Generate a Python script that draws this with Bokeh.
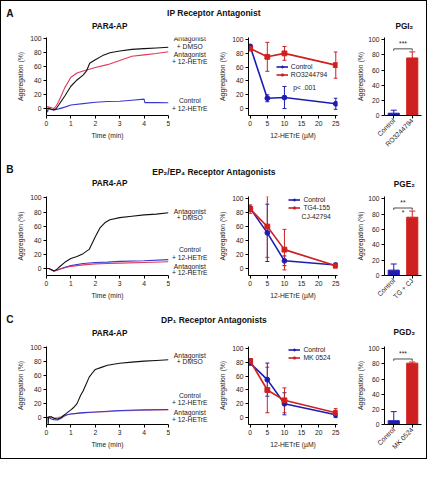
import math
from bokeh.plotting import figure
from bokeh.layouts import column, row
from bokeh.models import (Range1d, FactorRange, FixedTicker, Label, Legend, LegendItem,
                          ColumnDataSource, Whisker, TeeHead)
from bokeh.embed import file_html
from bokeh.resources import INLINE

# ---------------- data ----------------
panel_letters = ["A", "B", "C"]
panel_titles = ["IP Receptor Antagonist",
                "EP\u2082/EP\u2084 Receptor Antagonists",
                "DP\u2081 Receptor Antagonists"]
trace_title = "PAR4-AP"
bar_titles = ["PGI\u2082", "PGE\u2082", "PGD\u2082"]

time_ticks = [0, 1, 2, 3, 4, 5]
agg_ticks = [0, 20, 40, 60, 80, 100]
conc_ticks = [0, 5, 10, 15, 20, 25]
conc = [0, 5, 10, 25]

# Panel A traces (aggregation %, vs time in min)
a_t_dmso = [0, 0.1, 0.2, 0.3, 0.4, 0.5, 0.75, 1.0, 1.25, 1.5, 1.64, 1.77, 2.0, 2.3, 2.6, 3.0, 3.5, 4.0, 4.5, 5.0]
a_y_dmso = [0, 0.5, -1, -2, 0, 5, 18, 32, 41, 48, 54, 65, 70, 76, 80, 82.5, 85, 86, 87, 88]
a_t_het = [0, 0.1, 0.2, 0.3, 0.4, 0.5, 0.75, 1.0, 1.25, 1.5, 2.0, 2.5, 3.0, 3.5, 4.0, 4.5, 5.0]
a_y_het = [3, 2, 1, 0, 4, 10, 30, 45, 51, 54, 59, 63, 69, 75, 77, 79, 81.5]
a_t_ctrl = [0, 0.04, 0.08, 0.15, 0.3, 0.5, 0.75, 1.0, 1.5, 2.0, 2.5, 3.0, 3.5, 4.0, 4.03, 4.5, 5.0]
a_y_ctrl = [0, -5, 0, -1, -2, -0.5, 2, 5, 7, 9, 10, 10.5, 12, 13.5, 8.5, 8.5, 8.3]

# Panel B traces
b_t_dmso = [0, 0.1, 0.2, 0.3, 0.4, 0.5, 0.75, 1.0, 1.25, 1.5, 1.75, 2.0, 2.2, 2.4, 2.6, 3.0, 3.5, 4.0, 4.5, 5.0]
b_y_dmso = [0, 0, -2, -3.5, -2, 1.3, 8.7, 14, 17, 21, 27, 45, 58, 65, 69, 72, 74, 76, 77, 79]
b_t_ctrl = [0, 0.1, 0.2, 0.3, 0.4, 0.5, 0.75, 1.0, 1.5, 2.0, 2.5, 3.0, 4.0, 5.0]
b_y_ctrl = [0, 0, -2, -3.5, -3, -1.5, 1.5, 4, 7, 8.5, 9, 10, 11, 12.5]
b_t_het = [0, 0.1, 0.2, 0.3, 0.4, 0.5, 0.75, 1.0, 1.5, 2.0, 2.5, 3.0, 4.0, 5.0]
b_y_het = [0, 0, -2, -3.5, -3, -1.5, 1, 3, 5, 6.5, 7, 7.5, 8.5, 9.5]

# Panel C traces
c_t_dmso = [0, 0.06, 0.07, 0.08, 0.1, 0.2, 0.3, 0.45, 0.6, 0.7, 0.8, 1.0, 1.1, 1.25, 1.4, 1.5,
            1.6, 1.75, 1.9, 2.0, 2.25, 2.5, 3.0, 3.5, 4.0, 4.5, 5.0]
c_y_dmso = [0, 0, -10, 0, 1, 1, -1, -2, 0, 3, 5.6, 11, 14, 20, 32, 38,
            46, 58, 65, 69, 72, 75, 78, 79.5, 81, 82, 83]
c_t_ctrl = [0, 0.1, 0.2, 0.3, 0.45, 0.6, 0.7, 0.85, 1.0, 1.25, 1.5, 2.0, 2.5, 3.0, 4.0, 5.0]
c_y_ctrl = [0, 0, -2, -3, -3.5, -1, 1.5, 4, 5, 6, 7, 8, 9, 10, 11, 11.5]
c_t_het = [0, 0.1, 0.2, 0.3, 0.45, 0.6, 0.7, 0.85, 1.0, 1.25, 1.5, 2.0, 2.5, 3.0, 4.0, 5.0]
c_y_het = [0, 1, 0, -0.5, 0, 1, 2.5, 4, 5, 6, 6.5, 7.5, 8.5, 9.5, 10.5, 11]

# Trace side labels (text, y position in % units)
a_trace_labels = [("Antagonist", 100), ("+ DMSO", 89.5), ("Antagonist", 77.7),
                  ("+ 12-HETrE", 67), ("Control", 11), ("+ 12-HETrE", 0.4)]
b_trace_labels = [("Antagonist", 81), ("+ DMSO", 72), ("Control", 26.5),
                  ("+ 12-HETrE", 16), ("Antagonist", 3), ("+ 12-HETrE", -6)]
c_trace_labels = [("Antagonist", 89), ("+ DMSO", 80), ("Control", 32),
                  ("+ 12-HETrE", 21), ("Antagonist", 7), ("+ 12-HETrE", -3.5)]

# Dose-response (mean, error) vs 12-HETrE concentration
a_ctrl = [90, 15, 16, 7];  a_ctrl_err = [3, 5, 16, 8]
a_ant = [87, 75, 80, 63];  a_ant_err = [3, 21, 10, 19]
b_ctrl = [86, 51, 11, 5];  b_ctrl_err = [3, 41, 7, 2]
b_ant = [85, 60, 27, 4];   b_ant_err = [6, 44, 29, 2]
c_ctrl = [79, 55, 20, 4];  c_ctrl_err = [2, 24, 16, 4]
c_ant = [82, 40, 25, 7];   c_ant_err = [3, 33, 18, 6]
a_legend = ["Control", "RO3244794"]
b_legend = ["Control", "TG4-155", "CJ-42794"]
c_legend = ["Control", "MK 0524"]

# Bars
a_bar_labels = ["Control", "RO3244794"]; a_bar = [3, 76]; a_bar_err = [4, 8]
b_bar_labels = ["Control", "TG + CJ"];   b_bar = [7, 76]; b_bar_err = [8, 8]
c_bar_labels = ["Control", "MK 0524"];   c_bar = [5, 81]; c_bar_err = [12, 1.5]
a_sig = ["***"]
b_sig = ["**", "*"]
c_sig = ["***"]

# ---------------- layout helpers ----------------
S = 0.966
def R(v):
    return int(round(v * S))
def fpx(v):
    return f"{v * S:.2f}px"

FONT = "Liberation Sans"
BLUE = "#1d1db4"
RED = "#cf2020"
TR_BLACK = "#111111"
TR_RED = "#e0385c"
TR_BLUE = "#3838d0"
TR_PINK = "#e07a98"

X0, XS, X1, X2, X3 = 2, 177, 220, 368, 442
TR_FL, TR_FR = 48.7, 175
MD_FL, MD_FR = 258.2, 349.8
BR_FL, BR_FR = 397, 437

geo = [
    dict(h0=3, h1=35, r1=160, letter_y=15, title_y=15, sub_y=29, bar_title_y=29,
         tr=(38.5, 123.9), md=(40.8, 124.4), br=(37.5, 124.0),
         leg_x=287, leg_mid=78),
    dict(h0=160, h1=197, r1=318, letter_y=177, title_y=179, sub_y=191, bar_title_y=192,
         tr=(201.2, 287.0), md=(204.8, 287.3), br=(200.5, 288.0),
         leg_x=300, leg_mid=213.5),
    dict(h0=318, h1=352, r1=476, letter_y=332, title_y=333, sub_y=347, bar_title_y=346,
         tr=(356.2, 442.0), md=(359.8, 441.2), br=(353.4, 442.0),
         leg_x=300, leg_mid=367.5),
]


def base_style(p):
    p.title.visible = False
    p.grid.visible = False
    p.outline_line_color = None
    p.background_fill_color = "white"
    p.border_fill_color = "white"
    for ax in p.axis:
        ax.axis_line_color = "black"
        ax.axis_line_width = 1
        ax.major_tick_line_color = "black"
        ax.major_tick_out = 3
        ax.major_tick_in = 0
        ax.minor_tick_line_color = None
        ax.major_label_text_font = FONT
        ax.major_label_text_font_size = fpx(7)
        ax.major_label_text_color = "#222222"
        ax.major_label_standoff = 2
        ax.axis_label_text_font = FONT
        ax.axis_label_text_font_size = fpx(7)
        ax.axis_label_text_font_style = "normal"
        ax.axis_label_text_color = "#222222"
        ax.axis_label_standoff = 3


def header(g, letter, title, sub_title, bar_title):
    w = R(X3) - R(X0)
    h = R(g["h1"]) - R(g["h0"])
    p = figure(width=w, height=h, x_range=Range1d(0, w), y_range=Range1d(0, h),
               output_backend="svg", toolbar_location=None, min_border=0,
               x_axis_location=None, y_axis_location=None)
    base_style(p)

    def lab(text, xref, yref, size, align):
        p.add_layout(Label(x=(xref - X0) * S, y=h - (yref - g["h0"]) * S, text=text,
                           text_align=align, text_baseline="middle", text_font=FONT,
                           text_font_size=fpx(size), text_font_style="bold",
                           text_color="#111111"))
    lab(letter, 7, g["letter_y"], 10.5, "left")
    lab(title, 222, g["title_y"], 8.8, "center")
    lab(sub_title, 114, g["sub_y"], 8.5, "center")
    lab(bar_title, 419, g["bar_title_y"], 8.5, "center")
    return p


def trace_fig(g, series):
    y0, y1 = g["h1"], g["r1"]
    ft, fb = g["tr"]
    p = figure(width=R(XS) - R(X0), height=R(y1) - R(y0),
               x_range=Range1d(0, 5), y_range=Range1d(-10, 102),
               output_backend="svg", toolbar_location=None,
               min_border_left=R(TR_FL) - R(X0), min_border_right=R(XS) - R(TR_FR),
               min_border_top=R(ft) - R(y0), min_border_bottom=R(y1) - R(fb))
    base_style(p)
    p.xaxis.ticker = FixedTicker(ticks=time_ticks)
    p.yaxis.ticker = FixedTicker(ticks=agg_ticks)
    p.xaxis.axis_label = "Time (min)"
    p.yaxis.axis_label = "Aggregation (%)"
    for t, y, c in series:
        p.line(t, y, line_color=c, line_width=1.1)
    return p


def trace_labels_fig(g, side_labels):
    # narrow strip right of the trace plot that shares its vertical scale
    y0, y1 = g["h1"], g["r1"]
    ft, fb = g["tr"]
    w = R(X1) - R(XS)
    p = figure(width=w, height=R(y1) - R(y0),
               x_range=Range1d(0, w), y_range=Range1d(-10, 102),
               output_backend="svg", toolbar_location=None,
               min_border_left=0, min_border_right=0,
               min_border_top=R(ft) - R(y0), min_border_bottom=R(y1) - R(fb),
               x_axis_location=None, y_axis_location=None)
    base_style(p)
    for text, yv in side_labels:
        p.add_layout(Label(x=(197 - XS) * S, y=yv, text=text, text_align="center",
                           text_baseline="middle", text_font=FONT,
                           text_font_size=fpx(7), text_color="#222222"))
    return p


def mid_fig(g, ctrl, ctrl_err, ant, ant_err, legend_labels, extra=None):
    y0, y1 = g["h1"], g["r1"]
    ft, fb = g["md"]
    p = figure(width=R(X2) - R(X1), height=R(y1) - R(y0),
               x_range=Range1d(-0.5, 25.5), y_range=Range1d(-10, 103),
               output_backend="svg", toolbar_location=None,
               min_border_left=R(MD_FL) - R(X1), min_border_right=R(X2) - R(MD_FR),
               min_border_top=R(ft) - R(y0), min_border_bottom=R(y1) - R(fb))
    base_style(p)
    p.xaxis.ticker = FixedTicker(ticks=conc_ticks)
    p.yaxis.ticker = FixedTicker(ticks=agg_ticks)
    p.xaxis.axis_label = "12-HETrE (\u00b5M)"
    p.yaxis.axis_label = "Aggregation (%)"
    items = []
    for vals, errs, col, marker, lab in [(ctrl, ctrl_err, BLUE, "circle", legend_labels[0]),
                                         (ant, ant_err, RED, "square", legend_labels[1])]:
        src = ColumnDataSource(dict(x=conc, y=vals,
                                    up=[v + e for v, e in zip(vals, errs)],
                                    lo=[v - e for v, e in zip(vals, errs)]))
        p.add_layout(Whisker(source=src, base="x", upper="up", lower="lo",
                             line_color=col, line_width=1,
                             upper_head=TeeHead(size=4, line_color=col, line_width=1),
                             lower_head=TeeHead(size=4, line_color=col, line_width=1)))
        lr = p.line("x", "y", source=src, line_color=col, line_width=1.6)
        sr = p.scatter("x", "y", source=src, marker=marker, size=5 * S,
                       fill_color=col, line_color=col)
        items.append(LegendItem(label=lab, renderers=[lr, sr]))
    leg_h = 2 * 8.5
    leg_bottom = g["leg_mid"] + leg_h / 2
    legend = Legend(items=items,
                    location=((g["leg_x"] - MD_FL) * S, (fb - leg_bottom) * S),
                    label_text_font=FONT, label_text_font_size=fpx(7),
                    label_text_color="#222222",
                    label_height=int(8.5 * S), glyph_height=int(6 * S), glyph_width=int(13 * S),
                    label_standoff=3, spacing=0, padding=0, margin=0,
                    border_line_color=None, background_fill_alpha=0)
    p.add_layout(legend)
    if extra:
        for text, xv, yv in extra:
            p.add_layout(Label(x=xv, y=yv, text=text, text_align="left",
                               text_baseline="middle", text_font=FONT,
                               text_font_size=fpx(7), text_color="#222222"))
    return p


def bar_fig(g, labels, vals, errs, sig):
    y0, y1 = g["h1"], g["r1"]
    ft, fb = g["br"]
    p = figure(width=R(X3) - R(X2), height=R(y1) - R(y0),
               x_range=FactorRange(factors=labels), y_range=Range1d(0, 103),
               output_backend="svg", toolbar_location=None,
               min_border_left=R(BR_FL) - R(X2), min_border_right=R(X3) - R(BR_FR),
               min_border_top=R(ft) - R(y0), min_border_bottom=R(y1) - R(fb))
    base_style(p)
    p.yaxis.ticker = FixedTicker(ticks=agg_ticks)
    p.yaxis.axis_label = "Aggregation (%)"
    p.yaxis.axis_label_standoff = 1
    p.xaxis.major_label_orientation = math.pi / 4
    p.xaxis.major_label_standoff = 1
    cols = [BLUE, RED]
    p.vbar(x=labels, top=vals, width=0.6, fill_color=cols, line_color=cols)
    for lab, v, e, c in zip(labels, vals, errs, cols):
        src = ColumnDataSource(dict(x=[lab], top=[v], up=[v + e]))
        p.add_layout(Whisker(source=src, base="x", upper="up", lower="top",
                             line_color=c, line_width=1,
                             upper_head=TeeHead(size=6, line_color=c, line_width=1),
                             lower_head=None))
    top = max(v + e for v, e in zip(vals, errs)) + 4
    p.line(x=[labels[0], labels[0], labels[1], labels[1]], y=[top - 2.5, top, top, top - 2.5],
           line_color="#222222", line_width=0.8)
    p.add_layout(Label(x=1.0, y=top + 2, text=sig[0], text_align="center",
                       text_baseline="bottom", text_font=FONT, text_font_size=fpx(7),
                       text_color="#222222"))
    if len(sig) > 1:
        p.add_layout(Label(x=1.0, y=top - 1, text=sig[1], text_align="center",
                           text_baseline="top", text_font=FONT, text_font_size=fpx(7),
                           text_color="#222222"))
    return p


panels = [
    dict(traces=[(a_t_ctrl, a_y_ctrl, TR_BLUE), (a_t_het, a_y_het, TR_RED), (a_t_dmso, a_y_dmso, TR_BLACK)],
         tl=a_trace_labels, mid=(a_ctrl, a_ctrl_err, a_ant, a_ant_err, a_legend),
         extra=[("p< .001", 12.6, 31)],
         bar=(a_bar_labels, a_bar, a_bar_err, a_sig)),
    dict(traces=[(b_t_ctrl, b_y_ctrl, TR_BLUE), (b_t_het, b_y_het, TR_RED), (b_t_dmso, b_y_dmso, TR_BLACK)],
         tl=b_trace_labels, mid=(b_ctrl, b_ctrl_err, b_ant, b_ant_err, b_legend),
         extra=[(b_legend[2], 15.0, 74)],
         bar=(b_bar_labels, b_bar, b_bar_err, b_sig)),
    dict(traces=[(c_t_het, c_y_het, TR_PINK), (c_t_ctrl, c_y_ctrl, TR_BLUE), (c_t_dmso, c_y_dmso, TR_BLACK)],
         tl=c_trace_labels, mid=(c_ctrl, c_ctrl_err, c_ant, c_ant_err, c_legend),
         extra=None,
         bar=(c_bar_labels, c_bar, c_bar_err, c_sig)),
]

children = []
for i, pd_ in enumerate(panels):
    g = geo[i]
    children.append(header(g, panel_letters[i], panel_titles[i], trace_title, bar_titles[i]))
    f1 = trace_fig(g, pd_["traces"])
    f1b = trace_labels_fig(g, pd_["tl"])
    f2 = mid_fig(g, *pd_["mid"], extra=pd_["extra"])
    f3 = bar_fig(g, *pd_["bar"])
    children.append(row(f1, f1b, f2, f3, spacing=0))

root = column(*children, spacing=0, styles={"border": "1px solid black", "background": "white"})

html = file_html(root, INLINE, title="PAR4-AP antagonists")
open("out.html", "w").write(html)
